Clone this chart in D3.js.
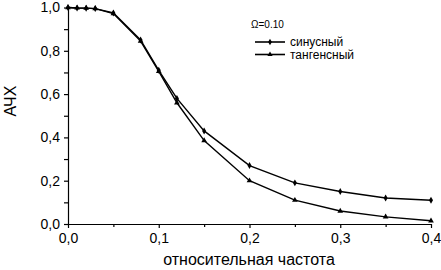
<!DOCTYPE html>
<html>
<head>
<meta charset="utf-8">
<script src="https://cdn.jsdelivr.net/npm/d3@7"></script>
<style>
    body { margin: 0; background: #fff; }
    svg { display: block; font-family: "Liberation Sans", Arial, sans-serif; }
</style>
</head>
<body>
<script>
    // relative frequency points
    let freq = [0, 0.01, 0.02, 0.03, 0.05, 0.08, 0.1, 0.12, 0.15, 0.2, 0.25, 0.3, 0.35, 0.4];
    let sineValues = [1.0, 0.998, 0.997, 0.995, 0.975, 0.85, 0.71, 0.58, 0.43, 0.27, 0.19, 0.15, 0.12, 0.11];
    let tanValues = [1.0, 0.998, 0.997, 0.995, 0.972, 0.845, 0.705, 0.56, 0.385, 0.2, 0.11, 0.06, 0.033, 0.015];
    let seriesNames = ["синусный", "тангенсный"];
    let xTicks = [0, 0.1, 0.2, 0.3, 0.4];
    let yTicks = [0, 0.2, 0.4, 0.6, 0.8, 1.0];
    let legendTitle = "Ω=0.10";

    let width = 441, height = 270;
    let margin = {top: 7.5, right: 10, bottom: 46, left: 68};

    let x = d3.scaleLinear().domain([0, 0.4]).range([margin.left, 431]);
    let y = d3.scaleLinear().domain([0, 1]).range([height - margin.bottom, margin.top]);

    let fmt = d => d3.format(".1f")(d).replace(".", ",");

    let svg = d3.select("body").append("svg")
        .attr("width", width)
        .attr("height", height);

    // minor ticks
    svg.append("g")
        .attr("transform", "translate(" + margin.left + ",0)")
        .call(d3.axisLeft(y).tickValues([0.1, 0.3, 0.5, 0.7, 0.9]).tickSize(4).tickFormat(""))
        .call(g => g.select(".domain").remove());
    svg.append("g")
        .attr("transform", "translate(0," + y(0) + ")")
        .call(d3.axisBottom(x).tickValues([0.05, 0.15, 0.25, 0.35]).tickSize(3).tickFormat(""))
        .call(g => g.select(".domain").remove());

    let yAxis = svg.append("g")
        .attr("transform", "translate(" + margin.left + ",0)")
        .call(d3.axisLeft(y).tickValues(yTicks).tickSize(4).tickSizeOuter(0).tickPadding(4).tickFormat(fmt));
    yAxis.selectAll("text").style("font-size", "14px").attr("fill", "#000");

    let xAxis = svg.append("g")
        .attr("transform", "translate(0," + y(0) + ")")
        .call(d3.axisBottom(x).tickValues(xTicks).tickSize(4).tickSizeOuter(0).tickPadding(5).tickFormat(fmt));
    xAxis.selectAll("text").style("font-size", "14px").attr("fill", "#000");

    svg.selectAll(".domain").attr("stroke", "#000").attr("stroke-width", 1.2);
    svg.selectAll(".tick line").attr("stroke", "#000").attr("stroke-width", 1.2);

    svg.append("text")
        .attr("x", 249)
        .attr("y", 265)
        .attr("text-anchor", "middle")
        .style("font-size", "16px")
        .text("относительная частота");

    svg.append("text")
        .attr("transform", "translate(16,101) rotate(-90)")
        .attr("text-anchor", "middle")
        .style("font-size", "16px")
        .text("АЧХ");

    let line = d3.line()
        .x((d, i) => x(freq[i]))
        .y(d => y(d));

    let series = [sineValues, tanValues];
    let symbols = [d3.symbolDiamond, d3.symbolTriangle];

    series.forEach(function (vals, k) {
        svg.append("path")
            .datum(vals)
            .attr("fill", "none")
            .attr("stroke", "#000")
            .attr("stroke-width", 1.4)
            .attr("d", line);

        svg.selectAll(".m" + k)
            .data(vals)
            .enter().append("path")
            .attr("class", "m" + k)
            .attr("transform", (d, i) => "translate(" + x(freq[i]) + "," + y(d) + ")")
            .attr("d", d3.symbol().type(symbols[k]).size(14))
            .attr("fill", "#000");
    });

    // Legend
    let legend = svg.append("g").attr("transform", "translate(251,0)");
    legend.append("text")
        .attr("x", 0)
        .attr("y", 28)
        .style("font-size", "10px")
        .text(legendTitle);

    seriesNames.forEach(function (name, k) {
        let ly = 42 + k * 12.5;
        legend.append("line")
            .attr("x1", 4).attr("x2", 34)
            .attr("y1", ly).attr("y2", ly)
            .attr("stroke", "#000")
            .attr("stroke-width", 1.6);
        legend.append("path")
            .attr("transform", "translate(19," + ly + ")")
            .attr("d", d3.symbol().type(symbols[k]).size(12))
            .attr("fill", "#000");
        legend.append("text")
            .attr("x", 39)
            .attr("y", ly + 4)
            .style("font-size", "12px")
            .text(name);
    });
</script>
</body>
</html>
